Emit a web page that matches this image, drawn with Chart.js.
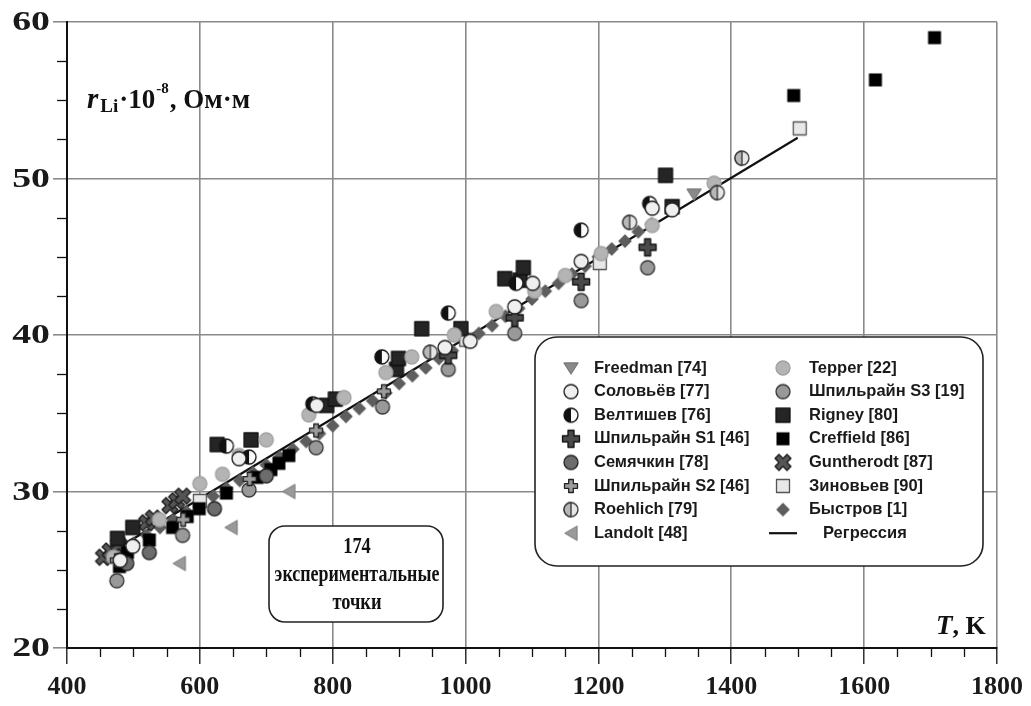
<!DOCTYPE html>
<html>
<head>
<meta charset="utf-8">
<script src="https://cdn.jsdelivr.net/npm/chart.js@4"></script>
<style>
  html, body { margin: 0; padding: 0; background: #fff; }
  #wrap { width: 1031px; height: 706px; }
</style>
</head>
<body>
<div id="wrap"><canvas id="myChart" width="1031" height="706"></canvas></div>
<script>
// tick labels
const tTicks = [400, 600, 800, 1000, 1200, 1400, 1600, 1800];
const rTicks = [20, 30, 40, 50, 60];

// series, [T in K, r in 10^-8 Ohm*m]
const freedman = [[1344, 49.0]];
const solovyov = [[480, 25.6], [499, 26.5], [659, 32.1], [776, 35.5], [969, 39.2], [1007, 39.6], [1074, 41.8], [1101, 43.3], [1174, 44.7], [1281, 48.1], [1311, 48.0]];
const veltishev = [[640, 32.9], [674, 32.2], [770, 35.6], [874, 38.6], [974, 41.4], [1076, 43.3], [1174, 46.7], [1277, 48.4]];
const shpilS1 = [[974, 38.7], [1074, 41.1], [1174, 43.4], [1274, 45.6]];
const semyachkin = [[490, 25.4], [524, 26.1], [622, 28.9], [700, 31.0]];
const shpilS2 = [[475, 25.6], [575, 28.2], [675, 30.8], [775, 33.9], [877, 36.4]];
const roehlich = [[947, 38.9], [1247, 47.2], [1379, 49.1], [1416, 51.3]];
const landolt = [[569, 25.4], [647, 27.7], [734, 30.0]];
const tepper = [[470, 25.8], [539, 28.2], [600, 30.5], [634, 31.1], [659, 32.3], [700, 33.3], [764, 34.9], [817, 36.0], [880, 37.6], [919, 38.6], [983, 40.0], [1046, 41.5], [1104, 42.8], [1150, 43.8], [1204, 45.2], [1281, 47.0], [1374, 49.7]];
const shpilS3 = [[475, 24.3], [574, 27.2], [674, 30.1], [775, 32.8], [875, 35.4], [974, 37.8], [1074, 40.1], [1174, 42.2], [1274, 44.3]];
const rigney = [[476, 27.0], [499, 27.7], [626, 33.0], [677, 33.3], [791, 35.5], [804, 35.9], [896, 37.8], [899, 38.5], [934, 40.4], [993, 40.4], [1059, 43.6], [1082, 43.5], [1087, 44.3], [1301, 50.2], [1311, 48.2]];
const creffield = [[479, 25.2], [491, 26.1], [524, 26.9], [559, 27.7], [581, 28.4], [599, 28.9], [640, 29.9], [686, 30.9], [707, 31.4], [719, 31.8], [734, 32.3], [1494, 55.3], [1617, 56.3], [1706, 59.0]];
const guntherodt = [[455, 25.8], [465, 26.2], [478, 26.6], [520, 28.0], [530, 28.3], [555, 29.1], [565, 29.4], [574, 29.7]];
const zinoviev = [[600, 29.4], [1001, 39.7], [1202, 44.6], [1503, 53.2]];
const bystrov = [[460, 25.7], [480, 26.2], [500, 26.7], [520, 27.2], [540, 27.7], [560, 28.2], [580, 28.7], [600, 29.2], [620, 29.7], [640, 30.2], [660, 30.7], [680, 31.2], [700, 31.7], [720, 32.2], [740, 32.7], [760, 33.2], [780, 33.7], [800, 34.2], [820, 34.8], [840, 35.3], [860, 35.8], [880, 36.3], [900, 36.9], [920, 37.4], [940, 37.9], [960, 38.5], [980, 39.0], [1000, 39.6], [1020, 40.1], [1040, 40.6], [1060, 41.2], [1080, 41.7], [1100, 42.3], [1120, 42.8], [1140, 43.3], [1160, 43.9], [1180, 44.4], [1200, 45.0], [1220, 45.5], [1240, 46.0], [1260, 46.6], [1280, 47.1]];
const regression = [[450, 25.7], [1500, 52.6]];

// little canvases used as point styles
function marker(kind) {
  const s = 22, m = s / 2;
  const c = document.createElement('canvas');
  c.width = c.height = s;
  const g = c.getContext('2d');
  g.lineJoin = 'round';
  g.lineWidth = 1.3;
  const circle = (fill, stroke, r) => {
    g.beginPath(); g.arc(m, m, r, 0, Math.PI * 2);
    g.fillStyle = fill; g.fill();
    g.strokeStyle = stroke; g.stroke();
  };
  const plus = (a, w, fill, stroke, rot) => {
    g.save(); g.translate(m, m); g.rotate(rot || 0);
    g.beginPath();
    g.moveTo(-w, -a); g.lineTo(w, -a); g.lineTo(w, -w); g.lineTo(a, -w); g.lineTo(a, w);
    g.lineTo(w, w); g.lineTo(w, a); g.lineTo(-w, a); g.lineTo(-w, w); g.lineTo(-a, w);
    g.lineTo(-a, -w); g.lineTo(-w, -w); g.closePath();
    g.fillStyle = fill; g.fill(); g.strokeStyle = stroke; g.stroke();
    g.restore();
  };
  const poly = (pts, fill, stroke) => {
    g.beginPath(); g.moveTo(pts[0][0], pts[0][1]);
    pts.slice(1).forEach(p => g.lineTo(p[0], p[1]));
    g.closePath(); g.fillStyle = fill; g.fill(); g.strokeStyle = stroke; g.stroke();
  };
  switch (kind) {
    case 'down': poly([[m - 7, m - 5], [m + 7, m - 5], [m, m + 6]], '#8a8a8a', '#7a7a7a'); break;
    case 'open': circle('#efefef', '#1a1a1a', 7); break;
    case 'half':
      circle('#fafafa', '#111', 7);
      g.beginPath(); g.arc(m, m, 7, Math.PI / 2, Math.PI * 1.5); g.closePath();
      g.fillStyle = '#111'; g.fill();
      break;
    case 'plusBig': plus(8.5, 3, '#4a4a4a', '#111'); break;
    case 'semy': circle('#6c6c6c', '#222', 7); break;
    case 'plusSmall': plus(6.5, 2.3, '#9c9c9c', '#222'); break;
    case 'roeh':
      circle('#e6e6e6', '#333', 7);
      g.beginPath(); g.arc(m, m, 7, Math.PI / 2, Math.PI * 1.5); g.closePath();
      g.fillStyle = '#b8b8b8'; g.fill(); g.strokeStyle = '#333'; g.stroke();
      break;
    case 'left': poly([[m + 6, m - 7], [m + 6, m + 7], [m - 6, m]], '#9a9a9a', '#858585'); break;
    case 'tepper': circle('#b4b4b4', '#a0a0a0', 7); break;
    case 's3': circle('#999', '#333', 7); break;
    case 'rigney': g.fillStyle = '#252525'; g.fillRect(m - 7, m - 7, 14, 14); g.strokeStyle = '#111'; g.strokeRect(m - 7, m - 7, 14, 14); break;
    case 'creff': g.fillStyle = '#000'; g.fillRect(m - 6.5, m - 6.5, 13, 13); break;
    case 'xmark': plus(8.5, 2.8, '#555', '#1a1a1a', Math.PI / 4); break;
    case 'zin': g.fillStyle = '#e8e8e8'; g.fillRect(m - 6.5, m - 6.5, 13, 13); g.strokeStyle = '#555'; g.strokeRect(m - 6.5, m - 6.5, 13, 13); break;
    case 'diamond': poly([[m, m - 6], [m + 6, m], [m, m + 6], [m - 6, m]], '#5e5e5e', '#5e5e5e'); break;
  }
  return c;
}

const series = [
  ['Freedman [74]', freedman, 'down'],
  ['Соловьёв [77]', solovyov, 'open'],
  ['Велтишев [76]', veltishev, 'half'],
  ['Шпильрайн S1 [46]', shpilS1, 'plusBig'],
  ['Семячкин [78]', semyachkin, 'semy'],
  ['Шпильрайн S2 [46]', shpilS2, 'plusSmall'],
  ['Roehlich [79]', roehlich, 'roeh'],
  ['Landolt [48]', landolt, 'left'],
  ['Tepper [22]', tepper, 'tepper'],
  ['Шпильрайн S3 [19]', shpilS3, 's3'],
  ['Rigney [80]', rigney, 'rigney'],
  ['Creffield [86]', creffield, 'creff'],
  ['Guntherodt [87]', guntherodt, 'xmark'],
  ['Зиновьев [90]', zinoviev, 'zin'],
  ['Быстров [1]', bystrov, 'diamond'],
];

const datasets = series.map(([label, pts, kind]) => ({
  label,
  data: pts.map(p => ({ x: p[0], y: p[1] })),
  pointStyle: marker(kind),
  pointRadius: 7,
  showLine: false
}));
datasets.push({
  label: 'Регрессия',
  data: regression.map(p => ({ x: p[0], y: p[1] })),
  showLine: true,
  borderColor: '#111',
  borderWidth: 2.2,
  pointRadius: 0,
  fill: false
});

const serif = '"Liberation Serif", "Times New Roman", serif';
const sans = '"Liberation Sans", Arial, sans-serif';

function roundBox(ctx, x, y, w, h, r) {
  ctx.beginPath();
  ctx.roundRect(x, y, w, h, r);
  ctx.fillStyle = '#fff';
  ctx.fill();
  ctx.lineWidth = 1.6;
  ctx.strokeStyle = '#222';
  ctx.stroke();
}

// text squeezed or stretched sideways
function textX(ctx, str, x, y, sx) {
  ctx.save();
  ctx.translate(x, y);
  ctx.scale(sx, 1);
  ctx.fillText(str, 0, 0);
  ctx.restore();
}

const extras = {
  id: 'extras',
  afterDraw(chart) {
    const ctx = chart.ctx;
    const xs = chart.scales.x, ys = chart.scales.y;
    const a = chart.chartArea;
    ctx.save();
    // minor ticks
    ctx.strokeStyle = '#111';
    ctx.lineWidth = 1.3;
    for (let v = 450; v < 1800; v += 50) {
      if (v % 200 === 0) continue;
      const px = Math.round(xs.getPixelForValue(v)) + 0.5;
      ctx.beginPath(); ctx.moveTo(px, a.bottom); ctx.lineTo(px, a.bottom + 9); ctx.stroke();
    }
    for (let v = 22.5; v < 60; v += 2.5) {
      if (v % 10 === 0) continue;
      const py = Math.round(ys.getPixelForValue(v)) + 0.5;
      ctx.beginPath(); ctx.moveTo(a.left - 10, py); ctx.lineTo(a.left, py); ctx.stroke();
    }

    // y tick labels, wide bold serif
    ctx.fillStyle = '#1a1a1a';
    ctx.font = 'bold 28px ' + serif;
    ctx.textAlign = 'right';
    ctx.textBaseline = 'middle';
    rTicks.forEach(v => textX(ctx, String(v), 50, ys.getPixelForValue(v) + 1, 1.35));

    // axis titles
    ctx.fillStyle = '#111';
    ctx.textAlign = 'left';
    ctx.textBaseline = 'alphabetic';
    let x = 87, y = 108;
    ctx.font = 'italic bold 29px ' + serif; ctx.fillText('r', x, y); x += ctx.measureText('r').width + 2;
    ctx.font = 'bold 19px ' + serif; ctx.fillText('Li', x, y + 4); x += ctx.measureText('Li').width + 1;
    ctx.font = 'bold 27px ' + serif; ctx.fillText('·10', x, y); x += ctx.measureText('·10').width + 1;
    ctx.font = 'bold 15px ' + serif; ctx.fillText('-8', x, y - 15); x += ctx.measureText('-8').width + 1;
    ctx.font = 'bold 27px ' + serif; ctx.fillText(', Ом·м', x, y);

    x = 936; y = 634;
    ctx.font = 'italic bold 27px ' + serif; ctx.fillText('T', x, y); x += ctx.measureText('T').width;
    ctx.font = 'bold 26px ' + serif; ctx.fillText(', K', x, y);

    // note box
    roundBox(ctx, 269, 526, 174, 96, 16);
    ctx.fillStyle = '#111';
    ctx.textAlign = 'center';
    ctx.textBaseline = 'middle';
    ctx.font = 'bold 23px ' + serif;
    textX(ctx, '174', 357, 547, 0.8);
    textX(ctx, 'экспериментальные', 357, 575, 0.78);
    textX(ctx, 'точки', 357, 603, 0.8);

    // legend
    roundBox(ctx, 535, 337, 448, 229, 22);
    ctx.textAlign = 'left';
    ctx.font = 'bold 16.5px ' + sans;
    chart.data.datasets.forEach((ds, i) => {
      const col = i < 8 ? 0 : 1;
      const row = i % 8;
      const cy = 368 + row * 23.6;
      const mx = col === 0 ? 571 : 783;
      const tx = col === 0 ? 594 : 809;
      ctx.fillStyle = '#1a1a1a';
      if (ds.showLine) {
        ctx.strokeStyle = '#111'; ctx.lineWidth = 2.2;
        ctx.beginPath(); ctx.moveTo(769, cy); ctx.lineTo(797, cy); ctx.stroke();
        ctx.fillText(ds.label, 823, cy);
      } else {
        const img = ds.pointStyle;
        ctx.drawImage(img, mx - img.width / 2, cy - img.height / 2);
        ctx.fillText(ds.label, tx, cy);
      }
    });
    ctx.restore();
  }
};

new Chart(document.getElementById('myChart'), {
  type: 'scatter',
  data: { datasets },
  options: {
    responsive: false,
    animation: false,
    events: [],
    layout: { padding: { top: 22, right: 30, left: 0, bottom: 0 } },
    plugins: { legend: { display: false }, tooltip: { enabled: false } },
    scales: {
      x: {
        type: 'linear', min: 400, max: 1800,
        afterBuildTicks: ax => { ax.ticks = tTicks.map(v => ({ value: v })); },
        afterFit: ax => { ax.height = 58; },
        grid: { color: '#8a8a8a', lineWidth: 1.6, tickLength: 16, tickColor: '#111', tickWidth: 1.3 },
        border: { color: '#111', width: 2 },
        ticks: { font: { family: serif, size: 26, weight: 'bold' }, color: '#1a1a1a', padding: 8, maxRotation: 0, callback: v => String(v) }
      },
      y: {
        min: 20, max: 60,
        afterBuildTicks: ax => { ax.ticks = rTicks.map(v => ({ value: v })); },
        afterFit: ax => { ax.width = 67; },
        grid: { color: '#8a8a8a', lineWidth: 1.6, tickLength: 14, tickColor: '#8a8a8a', tickWidth: 1.6 },
        border: { color: '#111', width: 2 },
        ticks: { font: { family: serif, size: 26, weight: 'bold' }, color: '#1a1a1a', padding: 4, callback: () => '' }
      }
    }
  },
  plugins: [extras]
});
</script>
</body>
</html>
